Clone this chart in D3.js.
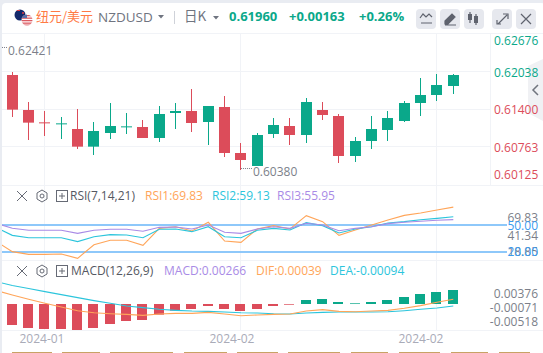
<!DOCTYPE html>
<html>
<head>
<meta charset="utf-8">
<script src="https://cdn.jsdelivr.net/npm/d3@7"></script>
<style>
  html, body { margin: 0; padding: 0; background: #e9ecf2; overflow: hidden; }
  text { font-family: "Open Sans", "Noto Sans CJK SC", sans-serif; font-size: 12px; }
</style>
</head>
<body>
<div id="chart"></div>
<script>
// Candles, left to right
const opens = [.61970, .61375, .61165, .61143, .61052, .60752, .60984, .61092, .61086, .60899, .61324, .61358, .61171, .61426,
    .60644, .60423, .60967, .61103, .60950, .61375, .61273, .60593, .60848, .61035, .61188, .61494, .61630, .61783];
const closes = [.61381, .61160, .61154, .61148, .60752, .61018, .61103, .61097, .60899, .61307, .61358, .61154, .61443, .60644,
    .60525, .60950, .61120, .60950, .61511, .61290, .60593, .60848, .61052, .61239, .61494, .61630, .61800, .61970];
const highs = [.62021, .61511, .61358, .61256, .61392, .61171, .61494, .61324, .61205, .61443, .61494, .61732, .61443, .61613,
    .60814, .60984, .61239, .61239, .61579, .61511, .61307, .60916, .61273, .61358, .61528, .61919, .61987, .61987];
const lows = [.61256, .60865, .60933, .60882, .60712, .60610, .60882, .60967, .60899, .60831, .61052, .61001, .60780, .60576,
    .60355, .60423, .60899, .60780, .60814, .61205, .60474, .60491, .60712, .60848, .61171, .61273, .61528, .61647];

// Indicator lines start one candle before the first visible one
const rsi1 = [32, 20.4, 17.4, 17.4, 17.8, 13.0, 28.1, 33.0, 33.0, 27.4, 46.3, 48.1, 43.3, 53.0, 32.2, 30.7, 45.6, 49.3, 45.6,
    60.4, 53.7, 38.5, 44.4, 50, 55.6, 60.7, 63.3, 66.7, 69.83];
const rsi2 = [47.4, 38.5, 35.9, 35.9, 35.9, 31.5, 37.0, 39.3, 38.9, 35.9, 45.2, 45.6, 42.6, 48.1, 37.0, 35.9, 44.1, 46.3, 44.4,
    52.6, 49.3, 41.1, 45.6, 48.1, 52.2, 53.7, 55.9, 57.4, 59.13];
const rsi3 = [52, 46.3, 44.1, 44.1, 44.1, 40.7, 44.1, 45.2, 45.2, 43.0, 47.4, 47.8, 45.6, 50, 41.9, 40.7, 45.6, 48.1, 46.3,
    51.9, 50, 43.7, 46.3, 48.1, 51.5, 53, 54.1, 55.2, 55.95];
const macdBars = [-.00399, -.00456, -.00475, -.00475, -.00494, -.00456, -.00380, -.00323, -.00304, -.00203, -.00127, -.00095,
    -.00038, -.00095, -.00133, -.00095, -.00038, -.00013, .00076, .00095, .00038, .00013, .00038, .00076, .00133, .00190, .00228, .00266];
const dif = [.00212, .00126, .00039, -.00041, -.00114, -.00187, -.00227, -.00247, -.00260, -.00280, -.00253, -.00240, -.00240,
    -.00220, -.00253, -.00287, -.00273, -.00260, -.00253, -.00194, -.00167, -.00200, -.00207, -.00194, -.00180, -.00140, -.00087, -.00021, .00039];
const dea = [.00392, .00312, .00252, .00192, .00132, .00072, .00013, -.00041, -.00094, -.00127, -.00160, -.00180, -.00194,
    -.00200, -.00213, -.00227, -.00233, -.00247, -.00253, -.00233, -.00220, -.00213, -.00213, -.00213, -.00207, -.00187, -.00160, -.00134, -.00094];

const priceTicks = [.62676, .62038, .61400, .60763, .60125];
const rsiBands = [50, 20];
const dateTicks = [[2, "2024-01"], [14, "2024-02"], [26, "2024-02"]];
const highMark = .62421;
const lowMark = .60380;

const width = 543, height = 353;
const red = "#dc4c5a", green = "#0aa88a";
const orange = "#ffa559", cyan = "#2cc5dc", purple = "#a98be6", blueBand = "#8ec8fa", blueText = "#3a9bee";
const gridColor = "#f1f3f7", grey = "#7c7f8a";

const svg = d3.select("#chart").append("svg").attr("width", width).attr("height", height).style("display", "block");
svg.append("rect").attr("x", 2).attr("y", 3).attr("width", width).attr("height", height).attr("rx", 4).attr("fill", "#fff");
svg.append("defs").append("clipPath").attr("id", "plot").append("rect")
    .attr("x", 2).attr("y", 33).attr("width", width).attr("height", 297);

// Collapse handle on the right edge, the price labels run over it
svg.append("path").attr("d", "M543 59L528 66V113L543 121z").attr("fill", "#f0f1f4");
svg.append("path").attr("d", "M538 85l-5 5l5 5").attr("fill", "none").attr("stroke", "#70747e").attr("stroke-width", 1.5);

// 1. Scales
const x = d3.scaleLinear().domain([0, 27]).range([12.3, 453.3]);
const yPrice = d3.scaleLinear().domain([.62038, .60763]).range([71, 146]);
const yRsi = d3.scaleLinear().domain([50, 20]).range([225, 252]);
const yBar = d3.scaleLinear().domain([0, .00266]).range([304, 290]);
const yLine = d3.scaleLinear().domain([.00039, -.00094]).range([299.3, 306]);

// 2. Grid and panel separators
const grid = svg.append("g").attr("stroke", gridColor);
[33, 185, 260, 330].forEach(y => grid.append("line").attr("x1", 2).attr("x2", width).attr("y1", y + .5).attr("y2", y + .5));
priceTicks.slice(1, 4).forEach(p => grid.append("line").attr("x1", 2).attr("x2", 490)
    .attr("y1", Math.round(yPrice(p)) + .5).attr("y2", Math.round(yPrice(p)) + .5));
dateTicks.forEach(d => grid.append("line").attr("x1", Math.floor(x(d[0])) + .5).attr("x2", Math.floor(x(d[0])) + .5).attr("y1", 33).attr("y2", 330));
grid.append("line").attr("x1", 490.5).attr("x2", 490.5).attr("y1", 33).attr("y2", 185);

// 3. Candles
const candles = svg.append("g").selectAll("g").data(opens).join("g")
    .attr("fill", (d, i) => closes[i] >= d ? green : red)
    .attr("stroke", (d, i) => closes[i] >= d ? green : red);
candles.append("line")
    .attr("x1", (d, i) => Math.floor(x(i)) + .5).attr("x2", (d, i) => Math.floor(x(i)) + .5)
    .attr("y1", (d, i) => yPrice(highs[i])).attr("y2", (d, i) => yPrice(lows[i]));
candles.append("rect")
    .attr("stroke", "none")
    .attr("x", (d, i) => Math.floor(x(i)) - 5).attr("width", 11)
    .attr("y", (d, i) => yPrice(Math.max(d, closes[i])))
    .attr("height", (d, i) => Math.max(1, Math.abs(yPrice(d) - yPrice(closes[i]))));

// High / low markers
const mark = svg.append("g").attr("fill", grey);
mark.append("line").attr("x1", 2).attr("x2", 7).attr("y1", yPrice(highMark) - 1).attr("y2", yPrice(highMark) - 1)
    .attr("stroke", grey).attr("stroke-dasharray", "1,1");
mark.append("text").attr("x", 8).attr("y", yPrice(highMark) + 2).attr("dy", ".35em").text(highMark.toFixed(5));
mark.append("line").attr("x1", x(14)).attr("x2", x(14) + 11).attr("y1", yPrice(lowMark)).attr("y2", yPrice(lowMark))
    .attr("stroke", grey).attr("stroke-dasharray", "1,1");
mark.append("text").attr("x", x(14) + 12).attr("y", yPrice(lowMark) + 3).attr("dy", ".35em").text(lowMark.toFixed(5));

// 4. Price axis, edge labels are pushed inside the panel
svg.append("g")
    .attr("transform", "translate(494,0)")
    .call(d3.axisRight(yPrice).tickValues(priceTicks).tickSize(0).tickPadding(0).tickFormat(d3.format(".5f")))
    .call(g => g.select(".domain").remove())
    .call(g => g.selectAll("text")
        .attr("fill", d => d > .6175 ? green : red)
        .attr("dy", d => d === priceTicks[0] ? "0.95em" : d === priceTicks[4] ? "-0.4em" : "0.45em")
        .style("font-family", "'Open Sans', sans-serif").style("font-size", "12px"));

// 5. RSI panel
const rsiLine = d3.line().x((d, i) => x(i - 1)).y(d => yRsi(d));
const rsiG = svg.append("g").attr("clip-path", "url(#plot)").attr("fill", "none");
rsiBands.forEach(b => rsiG.append("line").attr("x1", 2).attr("x2", 507).attr("y1", yRsi(b)).attr("y2", yRsi(b))
    .attr("stroke", blueBand).attr("stroke-width", 2));
[[rsi1, orange], [rsi2, cyan], [rsi3, purple]].forEach(s => rsiG.append("path").attr("d", rsiLine(s[0]))
    .attr("stroke", s[1]).attr("stroke-width", 1.1));

// side labels of this panel sit squeezed together, not on their value
const rsiSide = svg.append("g").attr("text-anchor", "end").attr("font-size", 12);
[["69.83", 218, grey], ["41.34", 235.5, grey], ["18.85", 252, grey], ["50.00", 226, blueText], ["20.00", 252, blueText]]
    .forEach(l => rsiSide.append("text").attr("x", 538).attr("y", l[1]).attr("dy", ".36em").attr("fill", l[2]).text(l[0]));

// 6. MACD panel
svg.append("g").selectAll("rect").data(macdBars).join("rect")
    .attr("x", (d, i) => Math.floor(x(i)) - 5).attr("width", 10)
    .attr("y", d => d > 0 ? yBar(d) : yBar(0))
    .attr("height", d => Math.max(.7, Math.abs(yBar(d) - yBar(0))))
    .attr("fill", d => d > 0 ? green : red);
const macdLine = d3.line().x((d, i) => x(i - 1)).y(d => yLine(d));
const macdG = svg.append("g").attr("clip-path", "url(#plot)").attr("fill", "none").attr("stroke-width", 1.1);
macdG.append("path").attr("d", macdLine(dea)).attr("stroke", cyan);
macdG.append("path").attr("d", macdLine(dif)).attr("stroke", orange);

const macdSide = svg.append("g").attr("text-anchor", "end").attr("fill", grey);
[["0.00376", 293.7], ["-0.00071", 307.7], ["-0.00518", 321.7]]
    .forEach(l => macdSide.append("text").attr("x", 538).attr("y", l[1]).attr("dy", ".36em").text(l[0]));

// 7. Date labels, each sits a bit further left of its grid line
const dateNudge = [3, 9, 16];
svg.append("g").selectAll("text").data(dateTicks).join("text")
    .attr("x", (d, i) => x(d[0]) - dateNudge[i]).attr("y", 339).attr("dy", ".36em").attr("text-anchor", "middle")
    .attr("fill", "#a9abb8").text(d => d[1]);

// Strip of the next page element at the bottom edge
svg.append("g").selectAll("rect").data([[12, 52], [62, 100], [110, 173], [184, 227], [237, 278], [288, 340], [351, 388], [399, 440], [451, 488], [499, 530]]).join("rect")
    .attr("x", d => d[0]).attr("width", d => d[1] - d[0]).attr("y", 352).attr("height", 1).attr("fill", "#c8a265");

// 8. Legends
function legendIcons(y) {
    const g = svg.append("g").attr("fill", "none").attr("stroke", "#666a75");
    g.append("path").attr("d", `M17 ${y - 5}L27 ${y + 5}M27 ${y - 5}L17 ${y + 5}`);
    g.append("path").attr("d", `M42 ${y - 6}l5 3v6l-5 3l-5 -3v-6z`);
    g.append("circle").attr("cx", 42).attr("cy", y).attr("r", 2);
    g.append("rect").attr("x", 56.5).attr("y", y - 5.5).attr("width", 11).attr("height", 11);
    g.append("path").attr("d", `M59 ${y}h6M62 ${y - 3}v6`);
}
function legendText(y, items) {
    items.forEach(t => svg.append("text").attr("x", t[0]).attr("y", y).attr("dy", ".36em").attr("fill", t[2]).text(t[1]));
}
legendIcons(196);
legendText(196, [[70, "RSI(7,14,21)", "#555862"], [145, "RSI1:" + rsi1[28], orange], [212, "RSI2:" + rsi2[28], cyan], [277, "RSI3:" + rsi3[28], purple]]);
legendIcons(271);
legendText(271, [[71, "MACD(12,26,9)", "#555862"], [164, "MACD:" + macdBars[27], purple], [256, "DIF:" + dif[28], orange], [330, "DEA:" + dea[28], cyan]]);

// 9. Header
const head = svg.append("g");
const flagClip = svg.select("defs");
flagClip.append("clipPath").attr("id", "nz").append("circle").attr("cx", 20).attr("cy", 15).attr("r", 5.5);
flagClip.append("clipPath").attr("id", "us").append("circle").attr("cx", 27).attr("cy", 20).attr("r", 5.5);
const nz = head.append("g").attr("clip-path", "url(#nz)");
nz.append("rect").attr("x", 14).attr("y", 9).attr("width", 12).attr("height", 12).attr("fill", "#14296b");
nz.append("path").attr("d", "M14 10h6v1h-6z").attr("fill", "#e23b45");
nz.append("circle").attr("cx", 23).attr("cy", 13).attr("r", 1).attr("fill", "#e23b45");
const us = head.append("g").attr("clip-path", "url(#us)");
us.append("rect").attr("x", 21).attr("y", 14).attr("width", 12).attr("height", 12).attr("fill", "#fff");
[15, 17.5, 20, 22.5, 24.5].forEach(y => us.append("rect").attr("x", 21).attr("y", y).attr("width", 12).attr("height", 1.3).attr("fill", "#dc5a62"));
us.append("rect").attr("x", 21).attr("y", 14).attr("width", 6).attr("height", 4).attr("fill", "#5a6fa8");

head.append("text").attr("x", 36).attr("y", 16).attr("dy", ".36em").attr("fill", "#ff7a45")
    .style("font-size", "13px").style("font-family", "'Noto Sans CJK SC'").text("纽元/美元");
head.append("text").attr("x", 98).attr("y", 17).attr("dy", ".36em").attr("fill", "#6f7480").style("font-size", "13.5px").text("NZDUSD");
head.append("path").attr("d", "M158 15h6l-3 3.5z").attr("fill", "#6f7480");
head.append("line").attr("x1", 174.5).attr("x2", 174.5).attr("y1", 11).attr("y2", 24).attr("stroke", "#cfd2d9");
head.append("text").attr("x", 184).attr("y", 16).attr("dy", ".36em").attr("fill", "#6f7480").style("font-size", "13.5px").style("font-family", "'Noto Sans CJK SC'").text("日K");
head.append("path").attr("d", "M213 16h6l-3 3.5z").attr("fill", "#6f7480");
[[229, "0.61960"], [289, "+0.00163"], [359, "+0.26%"]].forEach(t => head.append("text").attr("x", t[0]).attr("y", 16).attr("dy", ".36em")
    .attr("fill", green).attr("font-weight", 700).style("font-size", "13px").text(t[1]));

// Toolbar buttons
const buttons = [416, 440, 464, 492, 516];
head.selectAll("rect.btn").data(buttons).join("rect").attr("class", "btn")
    .attr("x", d => d).attr("y", 9).attr("width", 20).attr("height", 20).attr("rx", 4).attr("fill", "#e6e8ee");
const icons = head.append("g").attr("fill", "none").attr("stroke", "#5f636e").attr("stroke-width", 1.2);
icons.append("path").attr("d", "M420 18l3 -4l3 3l3 -3l3 3M421 23h11");
icons.append("path").attr("d", "M445 21l7 -7l3 3l-7 7h-3zM445 25h11").attr("fill", "#5f636e");
icons.append("path").attr("d", "M470 12v11M476 14v11");
head.append("rect").attr("x", 468).attr("y", 14).attr("width", 4).attr("height", 6).attr("fill", "#5f636e");
head.append("rect").attr("x", 474).attr("y", 16).attr("width", 4).attr("height", 7).attr("fill", "#5f636e");
icons.append("path").attr("d", "M498 24l9 -9M503 14h5v5M497 20v4h4");
icons.append("path").attr("d", "M521 14l10 10M531 14l-10 10");
</script>
</body>
</html>
